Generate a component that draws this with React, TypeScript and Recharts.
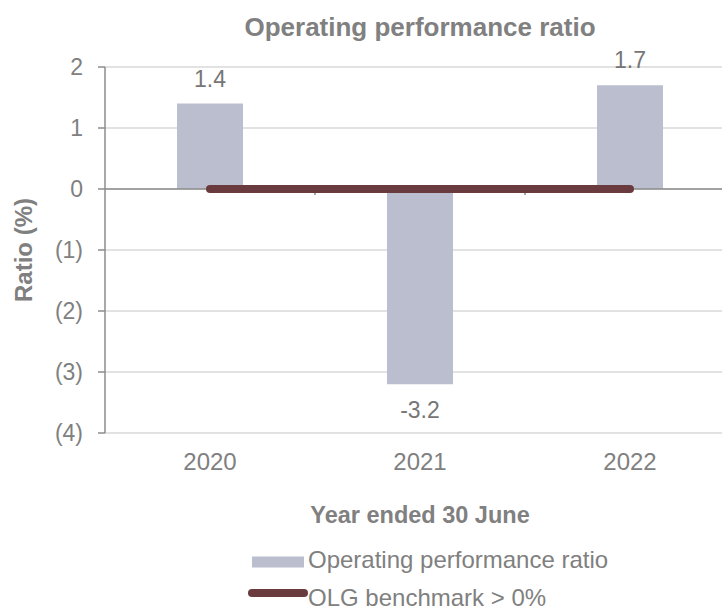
import React from "react";
import {
  ComposedChart,
  Bar,
  Line,
  XAxis,
  YAxis,
  CartesianGrid,
  ReferenceLine,
  LabelList,
  Label,
} from "recharts";

const years = ["2020", "2021", "2022"];
const ratioValues = [1.4, -3.2, 1.7];
const benchmarkValues = [0, 0, 0];
const yTicks = [-4, -3, -2, -1, 0, 1, 2];

const data = years.map((y, i) => ({
  year: y,
  ratio: ratioValues[i],
  benchmark: benchmarkValues[i],
}));

const FONT = '"Liberation Sans", Arial, sans-serif';
const GREY = "#808080";
const BAR = "#BBBECE";
const LINE = "#693B3E";

const fmtY = (v: number) => (v < 0 ? `(${-v})` : `${v}`);

const ZeroAxis = (p: any) => {
  const { x1, x2, y1 } = p;
  const ticks = [1, 2].map((i) => x1 + ((x2 - x1) * i) / 3);
  return (
    <g>
      <line x1={x1} x2={x2} y1={y1} y2={y1} stroke="#8C8C8C" strokeWidth={1.5} />
      {ticks.map((t, i) => (
        <line key={i} x1={t} x2={t} y1={y1} y2={y1 + 6} stroke="#8C8C8C" strokeWidth={1.5} />
      ))}
    </g>
  );
};

export default function App() {
  return (
    <div
      style={{
        position: "fixed",
        left: 0,
        top: 0,
        width: 722,
        height: 611,
        overflow: "hidden",
        background: "#fff",
        fontFamily: FONT,
      }}
    >
      <ComposedChart
        width={740}
        height={611}
        data={data}
        margin={{ top: 67, right: 5, bottom: 78, left: 0 }}
      >
        <CartesianGrid vertical={false} stroke="#D9D9D9" strokeWidth={1.5} />
        <XAxis
          dataKey="year"
          axisLine={false}
          tickLine={false}
          tickSize={0}
          tickMargin={20}
          height={100}
          tick={{ fill: GREY, fontSize: 24, fontFamily: FONT }}
        >
          <Label
            value="Year ended 30 June"
            position="insideBottom"
            offset={10}
            style={{ fill: GREY, fontSize: 23.5, fontWeight: "bold", fontFamily: FONT }}
          />
        </XAxis>
        <YAxis
          width={105}
          domain={[-4, 2]}
          ticks={yTicks}
          tickFormatter={fmtY}
          axisLine={{ stroke: "#8C8C8C", strokeWidth: 1.5 }}
          tickLine={{ stroke: "#8C8C8C", strokeWidth: 1.5 }}
          tickSize={7}
          tickMargin={15}
          interval={0}
          tick={{ fill: GREY, fontSize: 23, fontFamily: FONT }}
        >
          <Label
            content={(props: any) => {
              const vb = props.viewBox || {};
              const cx = (vb.x ?? 0) + 23;
              const cy = (vb.y ?? 0) + (vb.height ?? 0) / 2;
              return (
                <text
                  x={cx}
                  y={cy}
                  transform={`rotate(-90 ${cx} ${cy})`}
                  textAnchor="middle"
                  dominantBaseline="central"
                  fill={GREY}
                  fontSize={24}
                  fontWeight="bold"
                  fontFamily={FONT}
                >
                  Ratio (%)
                </text>
              );
            }}
          />
        </YAxis>
        <ReferenceLine y={0} shape={ZeroAxis} />
        <Bar dataKey="ratio" fill={BAR} barSize={66} isAnimationActive={false}>
          <LabelList
            dataKey="ratio"
            position="top"
            offset={17}
            style={{ fill: "#767676", fontSize: 23, fontFamily: FONT }}
          />
        </Bar>
        <Line
          dataKey="benchmark"
          stroke={LINE}
          strokeWidth={8}
          strokeLinecap="round"
          dot={false}
          activeDot={false}
          isAnimationActive={false}
        />
      </ComposedChart>
      <svg
        width={722}
        height={611}
        style={{ position: "absolute", left: 0, top: 0, pointerEvents: "none" }}
      >
        <text
          x={420}
          y={36}
          textAnchor="middle"
          fill={GREY}
          fontSize={26}
          fontWeight="bold"
          fontFamily={FONT}
        >
          Operating performance ratio
        </text>
        <rect x={252} y={556.5} width={52} height={11} fill={BAR} />
        <text x={308} y={568} fill={GREY} fontSize={24} fontFamily={FONT}>
          Operating performance ratio
        </text>
        <line x1={252} x2={304} y1={593} y2={593} stroke={LINE} strokeWidth={8} strokeLinecap="round" />
        <text x={308} y={606} fill={GREY} fontSize={24} fontFamily={FONT}>
          OLG benchmark &gt; 0%
        </text>
      </svg>
    </div>
  );
}
